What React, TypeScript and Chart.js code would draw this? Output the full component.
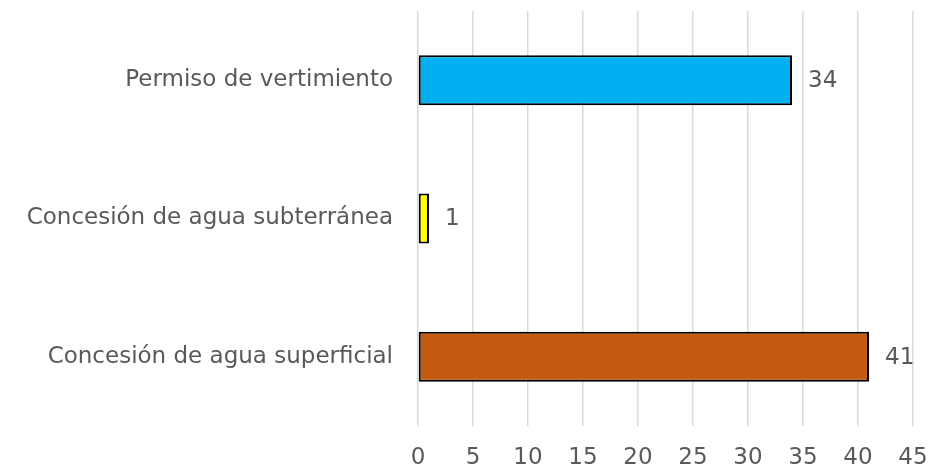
import React, { useEffect, useRef } from "react";
import { Chart, registerables } from "chart.js";

Chart.register(...registerables);

const categories = [
  "Permiso de vertimiento",
  "Concesión de agua subterránea",
  "Concesión de agua superficial",
];
const values = [34, 1, 41];
const barColors = ["#00B0F0", "#FFFF00", "#C55A11"];
const xTicks = [0, 5, 10, 15, 20, 25, 30, 35, 40, 45];

const FONT = "'DejaVu Sans', sans-serif";
const TEXT = "#595959";

const valueLabels = {
  id: "valueLabels",
  afterDatasetsDraw(chart: any) {
    const ctx = chart.ctx;
    const meta = chart.getDatasetMeta(0);
    ctx.save();
    ctx.font = `23px ${FONT}`;
    ctx.fillStyle = TEXT;
    ctx.textAlign = "left";
    ctx.textBaseline = "middle";
    meta.data.forEach((bar: any, i: number) => {
      ctx.fillText(String(values[i]), bar.x + 16, bar.y + 1);
    });
    ctx.restore();
  },
};

export default function App() {
  const ref = useRef<HTMLCanvasElement>(null);
  useEffect(() => {
    if (!ref.current) return;
    const chart = new Chart(ref.current, {
      type: "bar",
      data: {
        labels: categories,
        datasets: [
          {
            data: values,
            backgroundColor: barColors,
            borderColor: "#000000",
            borderWidth: 2,
            borderSkipped: false,
            categoryPercentage: 1,
            barPercentage: 0.362,
          },
        ],
      },
      options: {
        indexAxis: "y",
        animation: false,
        responsive: true,
        maintainAspectRatio: false,
        layout: { padding: { top: 11, right: 16, left: 0, bottom: 0 } },
        plugins: {
          legend: { display: false },
          tooltip: { enabled: false },
        },
        scales: {
          x: {
            min: 0,
            max: 45,
            afterBuildTicks(axis: any) {
              axis.ticks = xTicks.map((v) => ({ value: v }));
            },
            afterFit(axis: any) {
              axis.height = 43;
              axis.paddingLeft = 0;
              axis.paddingRight = 0;
            },
            grid: { color: "#D9D9D9", lineWidth: 1.5, drawTicks: false },
            border: { display: false },
            ticks: {
              color: TEXT,
              font: { family: FONT, size: 23 },
              padding: 18,
            },
          },
          y: {
            afterFit(axis: any) {
              axis.width = 418;
              axis.paddingTop = 0;
              axis.paddingBottom = 0;
            },
            grid: { display: false, drawTicks: false },
            border: { display: false },
            ticks: {
              color: TEXT,
              font: { family: FONT, size: 23 },
              padding: 25,
            },
          },
        },
      },
      plugins: [valueLabels],
    });
    return () => chart.destroy();
  }, []);
  return (
    <div style={{ position: "fixed", left: 0, top: 0, width: 929, height: 469, background: "#fff" }}>
      <canvas ref={ref} />
    </div>
  );
}
